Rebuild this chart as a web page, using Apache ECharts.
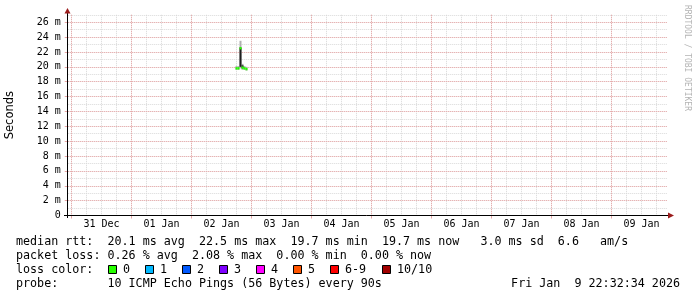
<!DOCTYPE html>
<html><head><meta charset="utf-8">
<script src="https://cdn.jsdelivr.net/npm/echarts@6/dist/echarts.min.js"></script>
<style>html,body{margin:0;padding:0;background:#fff}#c{width:697px;height:297px}</style>
</head><body><div id="c"></div>
<script>
// ---- data ----
const rangeStart = '2025-12-30T22:30:00Z';
const rangeEnd = '2026-01-09T22:30:00Z';
const dayDates = ['2025-12-31','2026-01-01','2026-01-02','2026-01-03','2026-01-04','2026-01-05','2026-01-06','2026-01-07','2026-01-08','2026-01-09'];
const yTickValues = [0,2,4,6,8,10,12,14,16,18,20,22,24,26]; // ms
const yMax = 27;
const sampleStepMin = 48;
const sampleTimes = ['2026-01-02T17:36:00Z','2026-01-02T18:24:00Z','2026-01-02T19:12:00Z','2026-01-02T20:00:00Z','2026-01-02T20:48:00Z','2026-01-02T21:36:00Z'];
const medianRtt = [19.8, 19.8, 22.5, 19.9, 19.8, 19.7];
const sampleLoss = [0, 0, 0, 0, 0, 0];
const smokeLow  = [19.6, 19.6, 19.8, 19.6, 19.6, 19.5];
const smokeHigh = [20.1, 20.1, 23.5, 20.4, 20.1, 20.0];
const coreLow   = [null, null, 20.0, 19.8, null, null];
const coreHigh  = [null, null, 22.6, 20.2, null, null];
const lossLabels = ['0','1','2','3','4','5','6-9','10/10'];
const lossColors = ['#26ff00','#00b8ff','#0059ff','#7e00ff','#ff00ff','#ff5500','#ff0000','#a10000'];
const statLines = [
  'median rtt:  20.1 ms avg  22.5 ms max  19.7 ms min  19.7 ms now   3.0 ms sd  6.6   am/s',
  'packet loss: 0.26 % avg  2.08 % max  0.00 % min  0.00 % now',
  'loss color:',
  'probe:       10 ICMP Echo Pings (56 Bytes) every 90s'
];
const stampText = 'Fri Jan  9 22:32:34 2026';
const watermark = 'RRDTOOL / TOBI OETIKER';
const yTitle = 'Seconds';

// ---- derived ----
const H = 3600000;
const tMin = Date.parse(rangeStart), tMax = Date.parse(rangeEnd);
const minorStep = 6 * H, majorStep = 24 * H;
const minorMin = Math.floor(tMin / minorStep) * minorStep;
const majorMin = Math.floor(tMin / majorStep) * majorStep;
const noons = dayDates.map(d => Date.parse(d + 'T12:00:00Z'));
const midnights = dayDates.map(d => Date.parse(d + 'T00:00:00Z'));
const MON = ['Jan','Feb','Mar','Apr','May','Jun','Jul','Aug','Sep','Oct','Nov','Dec'];
const fmtDay = v => { const d = new Date(v); return String(d.getUTCDate()).padStart(2,'0') + ' ' + MON[d.getUTCMonth()]; };
const stepMs = sampleStepMin * 60000;
const tms = sampleTimes.map(s => Date.parse(s));
const smokeData = tms.map((t,i) => [t, smokeLow[i], smokeHigh[i]]);
const coreData = tms.map((t,i) => [t, coreLow[i], coreHigh[i]]).filter(d => d[1] != null);
const medData = tms.map((t,i) => [t, medianRtt[i], sampleLoss[i]]);
function lossIdx(l){ if (l <= 5) return l; if (l < 10) return 6; return 7; }

const MONO = 'DejaVu Sans Mono';
const RED = '#e8a4a4', GREY = '#d8d8d8';
const FS = 11.7;

// layout
const W = 697, gLeft = 67.75, gRight = 29.25, gTop = 14.8, gBottom = 81.5;
const pxPerMs = (W - gLeft - gRight) / (tMax - tMin);
const minorLeft = gLeft - (tMin - minorMin) * pxPerMs;
const majorLeft = gLeft - (tMin - majorMin) * pxPerMs;

function rectItem(color) {
  return function(params, api) {
    const t = api.value(0), lo = api.value(1), hi = api.value(2);
    const p1 = api.coord([t, hi]), p2 = api.coord([t + stepMs, lo]);
    return {type:'rect', shape:{x:p1[0], y:p1[1], width:p2[0]-p1[0], height:p2[1]-p1[1]}, style:{fill:color}};
  };
}

const chart = echarts.init(document.getElementById('c'), null, {renderer:'canvas'});
const graphics = [];
graphics.push({type:'line', shape:{x1:67.5,y1:218,x2:67.5,y2:12}, style:{stroke:'#000',lineWidth:1}, z:10});
graphics.push({type:'polygon', shape:{points:[[64.5,13.5],[70.5,13.5],[67.5,8]]}, style:{fill:'#9b1c1c'}, z:11});
graphics.push({type:'line', shape:{x1:64,y1:215.5,x2:669,y2:215.5}, style:{stroke:'#000',lineWidth:1}, z:10});
graphics.push({type:'polygon', shape:{points:[[668,212.5],[668,218.5],[674,215.5]]}, style:{fill:'#9b1c1c'}, z:11});
graphics.push({type:'text', x:687, y:5, rotation:-Math.PI/2, style:{text:watermark, fill:'#b4b4b4', fontFamily:MONO, fontSize:8, align:'left', verticalAlign:'middle'}});
const lineY = [241.5, 255.5, 269.5, 283.5];
statLines.forEach((s,i) => graphics.push({type:'text', x:16, y:lineY[i], style:{text:s, fill:'#000', fontFamily:MONO, fontSize:FS, align:'left', verticalAlign:'middle'}}));
graphics.push({type:'text', x:680, y:lineY[3], style:{text:stampText, fill:'#000', fontFamily:MONO, fontSize:FS, align:'right', verticalAlign:'middle'}});
const boxX = [108.5, 145.5, 182.5, 219.5, 256.5, 293.5, 330.5, 382.5];
lossLabels.forEach((lab,i) => {
  graphics.push({type:'rect', shape:{x:boxX[i], y:265.5, width:8, height:8}, style:{fill:lossColors[i], stroke:'#000', lineWidth:1}});
  graphics.push({type:'text', x:boxX[i]+14.5, y:lineY[2], style:{text:lab, fill:'#000', fontFamily:MONO, fontSize:FS, align:'left', verticalAlign:'middle'}});
});

const hiddenY = gi => ({type:'value', gridIndex:gi, min:0, max:yMax, show:false});
const option = {
  backgroundColor:'#fff',
  animation:false,
  grid:[
    {left:gLeft, right:gRight, top:gTop, bottom:gBottom, containLabel:false, outerBoundsMode:'none'},
    {left:minorLeft, right:gRight, top:gTop, bottom:gBottom, containLabel:false, outerBoundsMode:'none'},
    {left:majorLeft, right:gRight, top:gTop, bottom:gBottom, containLabel:false, outerBoundsMode:'none'}
  ],
  xAxis:[
    {type:'value', gridIndex:0, min:tMin, max:tMax, position:'bottom', z:3,
     axisLine:{show:false},
     axisTick:{show:true, customValues:midnights, length:3, lineStyle:{color:RED}},
     axisLabel:{show:true, customValues:noons, formatter:fmtDay, margin:4, color:'#000', fontFamily:MONO, fontSize:10, hideOverlap:false},
     splitLine:{show:false}},
    {type:'value', gridIndex:1, min:minorMin, max:tMax, interval:minorStep, position:'bottom', z:0,
     axisLine:{show:false}, axisTick:{show:false}, axisLabel:{show:false},
     splitLine:{show:true, showMinLine:false, showMaxLine:false, lineStyle:{color:GREY, type:[1,1], width:1}}},
    {type:'value', gridIndex:2, min:majorMin, max:tMax, interval:majorStep, position:'bottom', z:1,
     axisLine:{show:false}, axisTick:{show:false}, axisLabel:{show:false},
     splitLine:{show:true, showMinLine:false, showMaxLine:false, lineStyle:{color:RED, type:[1,1], width:1}}}
  ],
  yAxis:[
    {type:'value', gridIndex:0, min:0, max:yMax, position:'left', z:2,
     name:yTitle, nameLocation:'middle', nameGap:52, nameRotate:90,
     nameTextStyle:{color:'#000', fontFamily:'DejaVu Sans', fontSize:11.5},
     axisLine:{show:false},
     axisTick:{show:true, customValues:yTickValues, length:3, lineStyle:{color:RED}},
     axisLabel:{show:true, customValues:yTickValues, margin:7, color:'#000', fontFamily:MONO, fontSize:10,
       formatter: v => v === 0 ? '0' : v + ' m'},
     splitLine:{show:true, lineStyle:{color:RED, type:[1,1], width:1}}},
    hiddenY(1),
    hiddenY(2),
    {type:'value', gridIndex:0, min:0, max:yMax, interval:1, position:'left', z:0,
     axisLine:{show:false}, axisTick:{show:false}, axisLabel:{show:false},
     splitLine:{show:true, lineStyle:{color:GREY, type:[1,1], width:1}}}
  ],
  series:[
    {type:'custom', name:'smoke', xAxisIndex:0, yAxisIndex:0, data:smokeData, renderItem:rectItem('#b0b0b0'), z:3},
    {type:'custom', name:'smokeCore', xAxisIndex:0, yAxisIndex:0, data:coreData, renderItem:rectItem('#1e1e1e'), z:4},
    {type:'custom', name:'median', xAxisIndex:0, yAxisIndex:0, data:medData, z:5,
     renderItem:(params, api) => {
       const t = api.value(0), m = api.value(1), l = api.value(2);
       const p1 = api.coord([t, m]), p2 = api.coord([t + stepMs, m]);
       return {type:'rect', shape:{x:p1[0], y:p1[1]-1.2, width:p2[0]-p1[0], height:2.4}, style:{fill:lossColors[lossIdx(l)]}};
     }}
  ],
  graphic:graphics
};
chart.setOption(option);
</script></body></html>
